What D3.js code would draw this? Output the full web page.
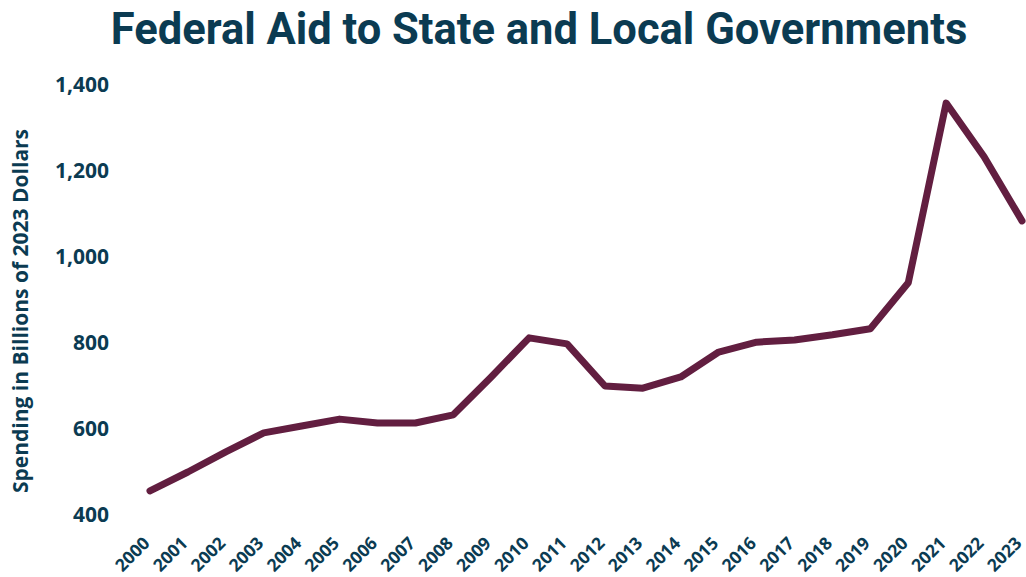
<!DOCTYPE html>
<html>
<head>
<meta charset="utf-8">
<script src="https://cdn.jsdelivr.net/npm/d3@7"></script>
<style>
  body { margin: 0; background: #fff; }
  svg { display: block; }
  .tick text { fill: #0b3b52; font-family: "Open Sans", "DejaVu Sans", sans-serif; font-weight: bold; }
  .title { fill: #0b3b52; font-family: Roboto, sans-serif; font-weight: bold; font-size: 43.5px; }
  .label { fill: #0b3b52; font-family: "Open Sans", sans-serif; font-weight: bold; font-size: 21px; }
</style>
</head>
<body>
<svg width="1026" height="577"></svg>
<script>
// **** Data ****
var years = [2000, 2001, 2002, 2003, 2004, 2005, 2006, 2007, 2008, 2009, 2010, 2011,
             2012, 2013, 2014, 2015, 2016, 2017, 2018, 2019, 2020, 2021, 2022, 2023];
var spending = [456, 500, 547, 591, 607, 623, 614, 614, 633, 721, 812, 798,
                700, 695, 721, 779, 802, 807, 819, 833, 940, 1358, 1233, 1084];
var yTicks = [400, 600, 800, 1000, 1200, 1400];

var svg = d3.select('svg');

// Scales
var xScale = d3.scaleLinear()
    .domain([2000, 2023])
    .range([150, 1022]);

var yScale = d3.scaleLinear()
    .domain([400, 1400])
    .range([515, 85]);

// Title
svg.append("text")
    .attr("class", "title")
    .attr("x", 539)
    .attr("y", 44)
    .attr("text-anchor", "middle")
    .text("Federal Aid to State and Local Governments");

// Y axis (no line, no ticks)
var yAxis = svg.append('g')
    .attr('transform', 'translate(109,0)')
    .call(d3.axisLeft(yScale).tickValues(yTicks).tickSize(0).tickPadding(0).tickFormat(d3.format(",")));
yAxis.select(".domain").remove();
yAxis.selectAll("text").style("font-size", "21px");

// X axis with rotated labels
var xAxis = svg.append('g')
    .attr('transform', 'translate(0,527)')
    .call(d3.axisBottom(xScale).tickValues(years).tickSize(0).tickFormat(d3.format("d")));
xAxis.select(".domain").remove();
xAxis.selectAll("text")
    .style("font-size", "17.5px")
    .attr("text-anchor", "end")
    .attr("dy", "0.35em")
    .attr("y", 0)
    .attr("transform", "translate(-4,13) rotate(-45)");

// Y axis label
svg.append("text")
    .attr("class", "label")
    .attr("transform", "translate(21,311) rotate(-90)")
    .attr("text-anchor", "middle")
    .attr("dy", "0.35em")
    .text("Spending in Billions of 2023 Dollars");

// Line
var line = d3.line()
    .x(function(d, i) { return xScale(years[i]); })
    .y(function(d) { return yScale(d); });

svg.append("path")
    .datum(spending)
    .attr("d", line)
    .attr("fill", "none")
    .attr("stroke", "#621e40")
    .attr("stroke-width", 7)
    .attr("stroke-linejoin", "round")
    .attr("stroke-linecap", "round");
</script>
</body>
</html>
